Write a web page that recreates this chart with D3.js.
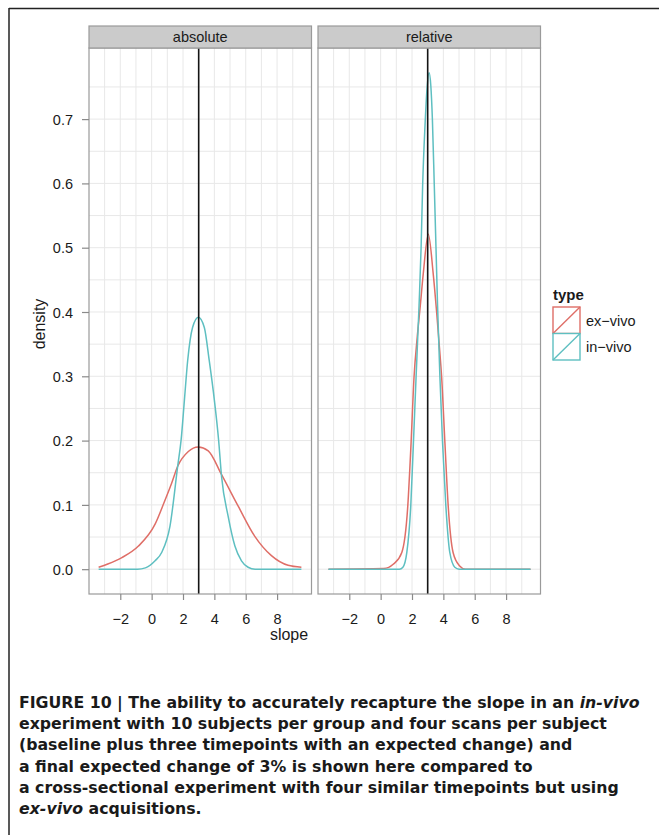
<!DOCTYPE html>
<html>
<head>
<meta charset="utf-8">
<script src="https://cdn.jsdelivr.net/npm/d3@7"></script>
<style>
  html, body { margin: 0; padding: 0; background: #fff; }
  svg { display: block; }
  text { font-family: "Liberation Sans", Arial, Helvetica, sans-serif; fill: #1a1a1a; }
</style>
</head>
<body>
<div id="chart"></div>
<script>
// ---- data: [slope, density] ----
const facets = ["absolute", "relative"];
const types = ["ex-vivo", "in-vivo"];
const typeColors = ["#df6e67", "#5ebfc1"];

const absoluteExVivo = [
  [-3.38, 0.003], [-2.8, 0.008], [-1.9, 0.018], [-0.84, 0.036], [0.22, 0.070],
  [0.8, 0.104], [1.28, 0.134], [1.66, 0.160], [2.34, 0.183], [2.97, 0.190],
  [3.61, 0.184], [4.46, 0.147], [5.52, 0.098], [6.58, 0.051], [7.64, 0.021],
  [8.70, 0.006], [9.55, 0.003]
];
const absoluteInVivo = [
  [-3.38, 0], [-0.9, 0], [-0.4, 0.002], [0.22, 0.013], [0.64, 0.026],
  [1.17, 0.067], [1.66, 0.160], [1.88, 0.201], [2.09, 0.263], [2.30, 0.325],
  [2.61, 0.376], [2.98, 0.392], [3.36, 0.376], [3.67, 0.325], [4.0, 0.263],
  [4.27, 0.201], [4.46, 0.144], [4.88, 0.082], [5.31, 0.036], [5.73, 0.013],
  [6.15, 0.003], [6.6, 0], [9.55, 0]
];
const relativeExVivo = [
  [-3.33, 0], [0.2, 0.001], [0.82, 0.008], [1.35, 0.026], [1.73, 0.098],
  [1.94, 0.196], [2.13, 0.299], [2.33, 0.36], [2.51, 0.405], [2.72, 0.46],
  [3.04, 0.521], [3.35, 0.46], [3.57, 0.40], [3.75, 0.345], [3.89, 0.299],
  [4.10, 0.196], [4.31, 0.098], [4.62, 0.026], [5.04, 0.005], [5.4, 0], [9.56, 0]
];
const relativeInVivo = [
  [-3.33, 0], [1.2, 0], [1.42, 0.003], [1.67, 0.026], [1.92, 0.098],
  [2.09, 0.196], [2.26, 0.299], [2.45, 0.41], [2.58, 0.50], [2.68, 0.598],
  [2.83, 0.69], [2.96, 0.748], [3.09, 0.772], [3.2, 0.752], [3.3, 0.70],
  [3.42, 0.598], [3.53, 0.50], [3.63, 0.41], [3.78, 0.299], [3.95, 0.196],
  [4.16, 0.098], [4.41, 0.026], [4.73, 0.003], [5.0, 0], [9.56, 0]
];
const seriesByFacet = [
  [absoluteExVivo, absoluteInVivo],
  [relativeExVivo, relativeInVivo]
];
const trueSlope = 3;

const xTicks = [-2, 0, 2, 4, 6, 8];
const xMinor = [-3, -1, 1, 3, 5, 7, 9];
const yTicks = [0, 0.1, 0.2, 0.3, 0.4, 0.5, 0.6, 0.7];
const yMinor = [0.05, 0.15, 0.25, 0.35, 0.45, 0.55, 0.65, 0.75];

const captionLines = [
  [["FIGURE 10 | The ability to accurately recapture the slope in an ", false], ["in-vivo", true]],
  [["experiment with 10 subjects per group and four scans per subject", false]],
  [["(baseline plus three timepoints with an expected change) and", false]],
  [["a final expected change of 3% is shown here compared to", false]],
  [["a cross-sectional experiment with four similar timepoints but using", false]],
  [["ex-vivo", true], [" acquisitions.", false]]
];

// ---- layout ----
const width = 659, height = 835;
const panelTop = 48, panelBottom = 594, stripTop = 26;
const panelX = [[89, 311.5], [318, 540.5]];

const svg = d3.select("#chart").append("svg")
  .attr("width", width)
  .attr("height", height);

// figure frame (top + left rule)
svg.append("line").attr("x1", 9).attr("x2", width).attr("y1", 8.5).attr("y2", 8.5)
  .attr("stroke", "#222").attr("stroke-width", 1.5);
svg.append("line").attr("x1", 9).attr("x2", 9).attr("y1", 8).attr("y2", height)
  .attr("stroke", "#222").attr("stroke-width", 1.5);

const y = d3.scaleLinear().domain([-0.0386, 0.8106]).range([panelBottom, panelTop]);
const line = d3.line().curve(d3.curveMonotoneX);

facets.forEach((facet, i) => {
  const [x0, x1] = panelX[i];
  const x = d3.scaleLinear().domain([-3.995, 10.195]).range([x0, x1]);
  const g = svg.append("g");

  // grid
  g.selectAll(".vgrid").data(xMinor.concat(xTicks)).join("line")
    .attr("x1", d => x(d)).attr("x2", d => x(d))
    .attr("y1", panelTop).attr("y2", panelBottom)
    .attr("stroke", "#e8e8e8").attr("stroke-width", 1);
  g.selectAll(".hgrid").data(yMinor.concat(yTicks)).join("line")
    .attr("x1", x0).attr("x2", x1)
    .attr("y1", d => y(d)).attr("y2", d => y(d))
    .attr("stroke", "#e8e8e8").attr("stroke-width", 1);

  // density curves
  line.x(d => x(d[0])).y(d => y(d[1]));
  seriesByFacet[i].forEach((pts, k) => {
    g.append("path")
      .attr("d", line(pts))
      .attr("fill", "none")
      .attr("stroke", typeColors[k])
      .attr("stroke-width", 1.5);
  });

  // true slope
  g.append("line")
    .attr("x1", x(trueSlope)).attr("x2", x(trueSlope))
    .attr("y1", panelTop).attr("y2", panelBottom)
    .attr("stroke", "#151515").attr("stroke-width", 1.6);

  // panel border
  g.append("rect")
    .attr("x", x0).attr("y", panelTop)
    .attr("width", x1 - x0).attr("height", panelBottom - panelTop)
    .attr("fill", "none").attr("stroke", "#9a9a9a").attr("stroke-width", 1.2);

  // strip
  g.append("rect")
    .attr("x", x0).attr("y", stripTop)
    .attr("width", x1 - x0).attr("height", panelTop - stripTop)
    .attr("fill", "#cbcbcb").attr("stroke", "#9a9a9a").attr("stroke-width", 1.2);
  g.append("text")
    .attr("x", (x0 + x1) / 2).attr("y", 42)
    .attr("text-anchor", "middle")
    .style("font-size", "14.5px")
    .text(facet);

  // x axis
  const xAxis = d3.axisBottom(x)
    .tickValues(xTicks)
    .tickSize(6)
    .tickPadding(4)
    .tickFormat(d => d < 0 ? "\u2212" + Math.abs(d) : d);
  const ax = g.append("g")
    .attr("transform", `translate(0,${panelBottom})`)
    .call(xAxis);
  ax.select(".domain").remove();
  ax.selectAll(".tick line").attr("stroke", "#8a8a8a").attr("stroke-width", 1.2);
  ax.selectAll(".tick text")
    .attr("y", 0).attr("dy", 0)
    .attr("transform", `translate(0,${624 - panelBottom})`)
    .style("font-size", "14.5px")
    .style("font-family", "'Liberation Sans', Arial, sans-serif")
    .attr("fill", "#1a1a1a");

  if (i === 0) {
    const yAxis = d3.axisLeft(y)
      .tickValues(yTicks)
      .tickSize(7)
      .tickPadding(9)
      .tickFormat(d3.format(".1f"));
    const ay = g.append("g")
      .attr("transform", `translate(${x0},0)`)
      .call(yAxis);
    ay.select(".domain").remove();
    ay.selectAll(".tick line").attr("stroke", "#8a8a8a").attr("stroke-width", 1.2);
    ay.selectAll(".tick text")
      .attr("dy", "0.36em")
      .style("font-size", "14.5px")
      .style("font-family", "'Liberation Sans', Arial, sans-serif")
      .attr("fill", "#1a1a1a");
  }
});

// axis titles
svg.append("text")
  .attr("x", 289).attr("y", 640)
  .attr("text-anchor", "middle")
  .style("font-size", "16px")
  .text("slope");
svg.append("text")
  .attr("transform", "translate(45,324) rotate(-90)")
  .attr("text-anchor", "middle")
  .style("font-size", "16px")
  .text("density");

// legend
const legend = svg.append("g").attr("transform", "translate(553,0)");
legend.append("text")
  .attr("x", 0).attr("y", 300)
  .style("font-size", "15px")
  .style("font-weight", "bold")
  .text("type");
types.forEach((t, k) => {
  const top = 307 + k * 26.5;
  legend.append("rect")
    .attr("x", 0).attr("y", top)
    .attr("width", 27).attr("height", 26.5)
    .attr("fill", "#fff")
    .attr("stroke", typeColors[k]).attr("stroke-width", 1.4);
  legend.append("line")
    .attr("x1", 0).attr("y1", top + 26.5)
    .attr("x2", 27).attr("y2", top)
    .attr("stroke", typeColors[k]).attr("stroke-width", 1.4);
  legend.append("text")
    .attr("x", 33).attr("y", top + 13.5)
    .attr("dy", "0.36em")
    .style("font-size", "14.5px")
    .text(t.replace("-", "\u2212"));
});

// caption: bold condensed, one common horizontal squeeze so the first line
// ends where it does in the figure
const captionLeft = 19, captionFirstRight = 640;
const captionTexts = captionLines.map((parts, li) => {
  const t = svg.append("text")
    .attr("x", 0).attr("y", 0)
    .style("font-family", "'DejaVu Sans Condensed', 'Liberation Sans Narrow', 'Liberation Sans', sans-serif")
    .style("font-stretch", "condensed")
    .style("font-size", "16px")
    .style("font-weight", "bold")
    .attr("fill", "#231f20");
  parts.forEach(([s, it]) => {
    t.append("tspan").style("font-style", it ? "italic" : "normal").text(s);
  });
  return t;
});
const sx = (captionFirstRight - captionLeft) / captionTexts[0].node().getComputedTextLength();
captionTexts.forEach((t, li) => {
  t.attr("transform", `translate(${captionLeft},${708 + li * 21.2}) scale(${sx},1)`);
});
</script>
</body>
</html>
